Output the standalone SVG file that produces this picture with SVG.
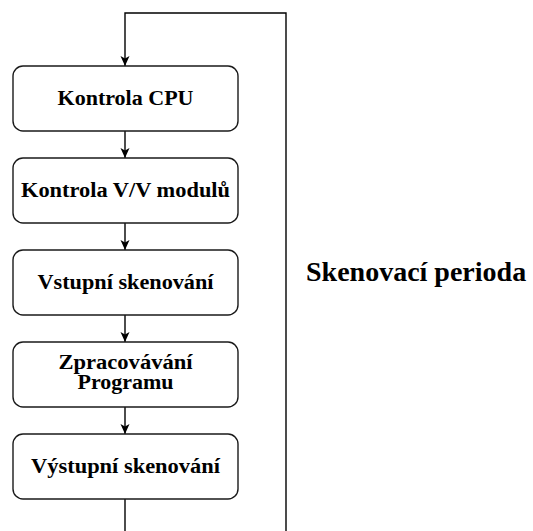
<svg xmlns="http://www.w3.org/2000/svg" width="533" height="531" viewBox="0 0 533 531">
<defs>
<style>
.box{fill:#ffffff;stroke:#1a1a1a;stroke-width:1.4}
.lbl{font-weight:bold;font-size:20px;fill:#000000;text-anchor:middle}
.con{fill:none;stroke:#000000;stroke-width:1.4}
</style>
<marker id="arr" viewBox="0 0 10 10" refX="10" refY="5" markerWidth="10" markerHeight="10" orient="auto" markerUnits="userSpaceOnUse">
<path d="M0,0.5 L10,5 L0,9.5 L2.5,5 Z" fill="#000000"/>
</marker>
</defs>
<rect width="533" height="531" fill="#ffffff"/>
<g id="connectors">
<path class="con" d="M125,531 L125,499"/>
<path class="con" d="M286,531 L286,13 L125,13 L125,66" marker-end="url(#arr)"/>
<path class="con" d="M125,131 L125,158" marker-end="url(#arr)"/>
<path class="con" d="M125,223 L125,250" marker-end="url(#arr)"/>
<path class="con" d="M125,315 L125,342" marker-end="url(#arr)"/>
<path class="con" d="M125,407 L125,434" marker-end="url(#arr)"/>
</g>
<g font-family="'Liberation Serif', 'Times New Roman', serif">
<g id="n1"><rect class="box" x="13" y="66" width="225" height="65" rx="10"/><text class="lbl" x="125.5" y="105" textLength="136" lengthAdjust="spacingAndGlyphs">Kontrola CPU</text></g>
<g id="n2"><rect class="box" x="13" y="158" width="225" height="65" rx="10"/><text class="lbl" x="125.5" y="197" textLength="209" lengthAdjust="spacingAndGlyphs">Kontrola V/V modulů</text></g>
<g id="n3"><rect class="box" x="13" y="250" width="225" height="65" rx="10"/><text class="lbl" x="125.5" y="289" textLength="176" lengthAdjust="spacingAndGlyphs">Vstupní skenování</text></g>
<g id="n4"><rect class="box" x="13" y="342" width="225" height="65" rx="10"/><text class="lbl" x="125.5" y="369" textLength="134" lengthAdjust="spacingAndGlyphs">Zpracovávání</text><text class="lbl" x="125.5" y="389" textLength="96" lengthAdjust="spacingAndGlyphs">Programu</text></g>
<g id="n5"><rect class="box" x="13" y="434" width="225" height="65" rx="10"/><text class="lbl" x="125.5" y="473" textLength="189" lengthAdjust="spacingAndGlyphs">Výstupní skenování</text></g>
<g id="label"><text x="306" y="281" font-weight="bold" font-size="28" fill="#000000">Skenovací perioda</text></g>
</g>
</svg>
